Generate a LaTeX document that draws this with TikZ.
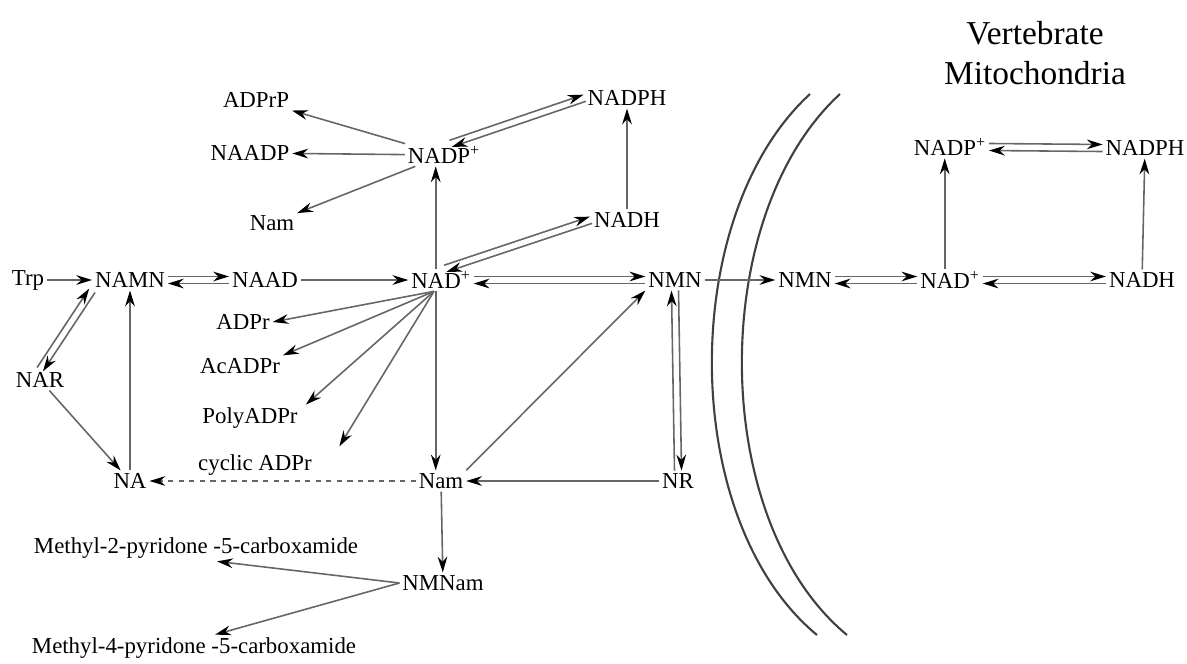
\documentclass[tikz,border=0pt]{standalone}
\usepackage{fontspec}
\setmainfont{Liberation Serif}
\usetikzlibrary{arrows.meta,calc}

\tikzset{
  mol/.style={inner sep=1.5pt, font=\fontsize{13}{15}\selectfont},
  fwd/.style={draw=black!60, line width=0.9pt, -{Stealth[length=9pt,width=5.5pt,black]}},
  membrane/.style={draw=black!75, line width=1.2pt},
}
% two opposite arrows side by side
\newcommand{\revpair}[3][2pt]{%
  \draw[fwd] ($(#2)!#1!90:(#3)$) -- ($(#3)!#1!-90:(#2)$);
  \draw[fwd] ($(#3)!#1!90:(#2)$) -- ($(#2)!#1!-90:(#3)$);
}

\begin{document}
\begin{tikzpicture}[x=0.02cm, y=-0.02cm]
  \useasboundingbox (0,0) rectangle (1187,663);

  % cytosol
  \node[mol] (trp) at (28,280) {Trp};
  \node[mol] (namn) at (130,280) {NAMN};
  \node[mol] (naad) at (265,280) {NAAD};
  \node[mol] (nad) at (441,280) {NAD\textsuperscript{+}};
  \node[mol] (nmn) at (675,280) {NMN};
  \node[mol] (nadp) at (444,155) {NADP\textsuperscript{+}};
  \node[mol] (nadph) at (627,98) {NADPH};
  \node[mol] (nadh) at (627,220) {NADH};
  \node[mol] (adprp) at (256,100) {ADPrP};
  \node[mol] (naadp) at (250,153) {NAADP};
  \node[mol] (namup) at (272,223) {Nam};
  \node[mol] (adpr) at (243,322) {ADPr};
  \node[mol] (acadpr) at (240,366) {AcADPr};
  \node[mol] (polyadpr) at (250,418) {PolyADPr};
  \node[mol] (cadpr) at (255,465) {cyclic ADPr};
  \node[mol] (nar) at (40,380) {NAR};
  \node[mol] (na) at (130,481) {NA};
  \node[mol] (nam) at (441,481) {Nam};
  \node[mol] (nr) at (678,481) {NR};
  \node[mol] (nmnam) at (443,583) {NMNam};
  \node[mol] (me2) at (196,548) {Methyl-2-pyridone -5-carboxamide};
  \node[mol] (me4) at (194,648) {Methyl-4-pyridone -5-carboxamide};

  % mitochondria
  \node[mol] (nmnm) at (805,280) {NMN};
  \node[mol] (nadm) at (950,280) {NAD\textsuperscript{+}};
  \node[mol] (nadhm) at (1142,280) {NADH};
  \node[mol] (nadpm) at (950,147) {NADP\textsuperscript{+}};
  \node[mol] (nadphm) at (1145,148) {NADPH};
  \node[font=\fontsize{19}{23}\selectfont, align=center] (title) at (1035,53) {Vertebrate\\Mitochondria};

  \draw[membrane] (810,94) .. controls (678,215) and (678,520) .. (817,635);
  \draw[membrane] (840,94) .. controls (708,215) and (708,520) .. (847,635);

  \draw[fwd] (trp) -- (namn);
  \revpair{namn.east}{naad.west}
  \draw[fwd] (naad) -- (nad);
  \revpair{nad.east}{nmn.west}
  \revpair{nar.north}{namn.south west}
  \draw[fwd] (nar) -- (na);
  \draw[fwd] (na) -- (namn);

  \draw[fwd] ([xshift=-3pt]nad.north) -- ([xshift=-3pt]nad.north |- nadp.south);
  \revpair{nadp.60}{nadph.west}
  \revpair{nad.70}{nadh.west}
  \draw[fwd] (nadh) -- (nadph);
  \draw[fwd] (nadp) -- (adprp);
  \draw[fwd] (nadp) -- (naadp);
  \draw[fwd] (nadp) -- (namup);

  \draw[fwd] ([xshift=-4pt]nad.south) -- (adpr.east);
  \draw[fwd] ([xshift=-4pt]nad.south) -- (acadpr.north east);
  \draw[fwd] ([xshift=-4pt]nad.south) -- ([xshift=3pt]polyadpr.north east);
  \draw[fwd] ([xshift=-4pt]nad.south) -- ([xshift=14pt,yshift=3pt]cadpr.north east);
  \draw[fwd] ([xshift=-3pt]nad.south) -- ([xshift=-3pt]nad.south |- nam.north);

  \draw[fwd] (nam.north east) -- (nmn.south west);
  \revpair{nr.north}{nmn.south}
  \draw[fwd] (nr) -- (nam);
  \draw[fwd, dashed] (nam) -- (na);
  \draw[fwd] (nam) -- (nmnam);
  \draw[fwd] (nmnam.west) -- ([xshift=12pt]me2.south);
  \draw[fwd] (nmnam.west) -- ([xshift=12pt]me4.north);

  \draw[fwd] (nmn) -- (nmnm);
  \revpair{nmnm.east}{nadm.west}
  \revpair{nadm.east}{nadhm.west}
  \revpair{nadpm.east}{nadphm.west}
  \draw[fwd] ([xshift=-3pt]nadm.north) -- ([xshift=-3pt]nadm.north |- nadpm.south);
  \draw[fwd] (nadhm) -- (nadphm);
\end{tikzpicture}
\end{document}
